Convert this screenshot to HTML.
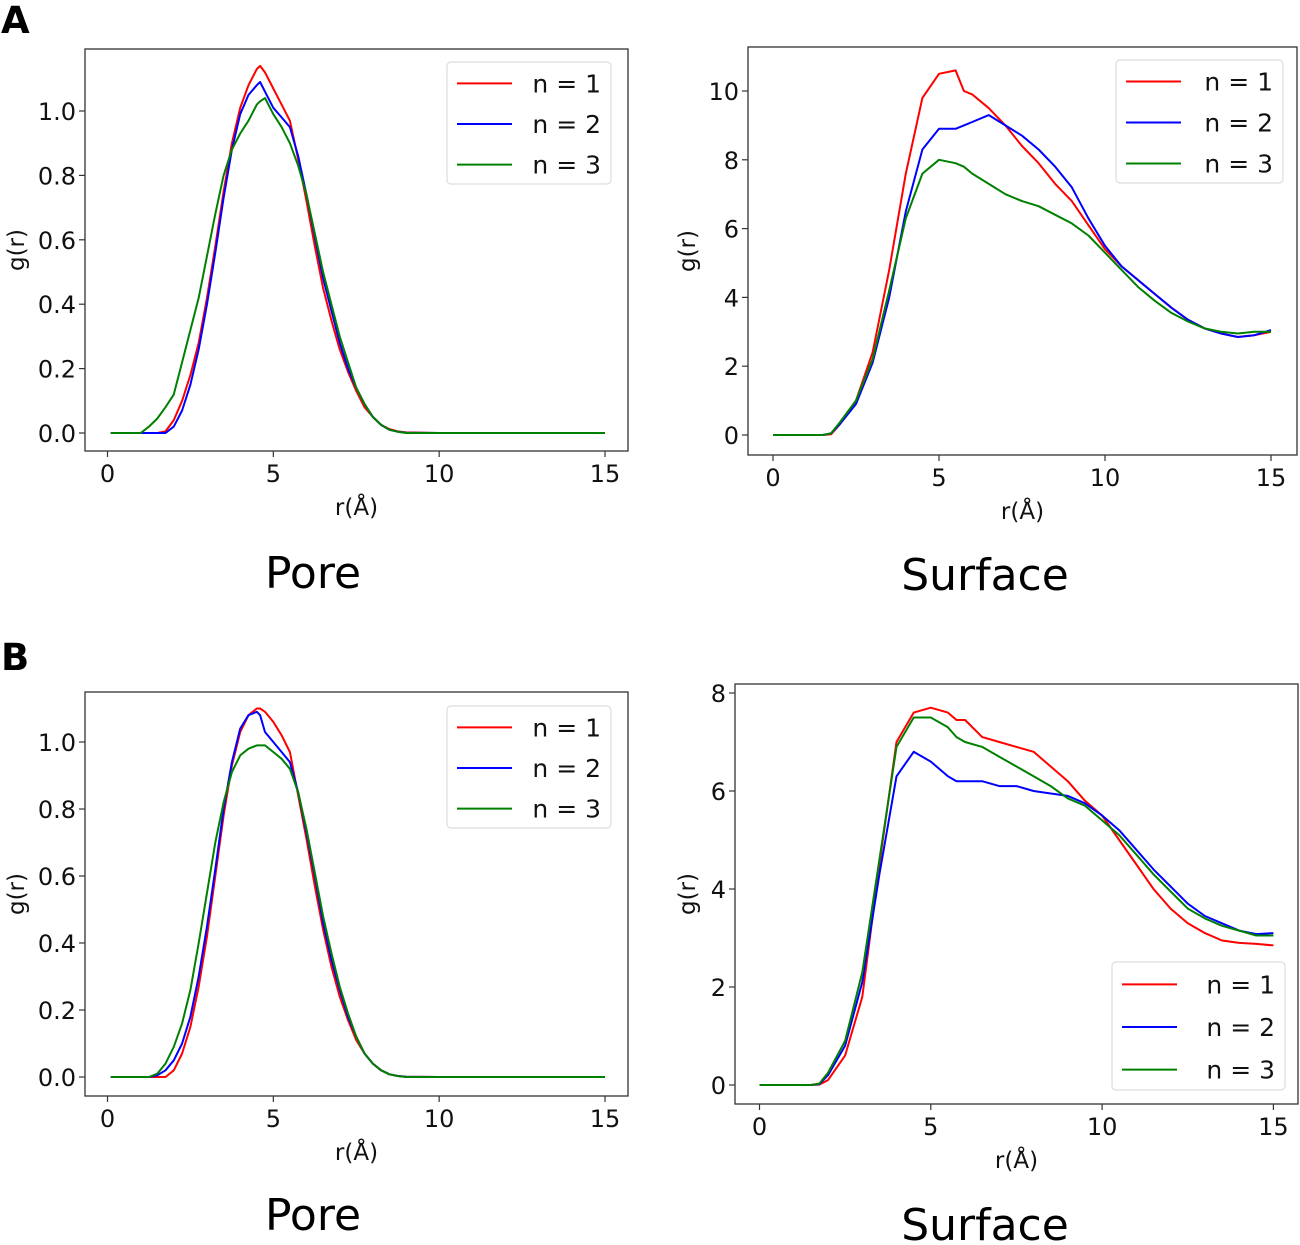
<!DOCTYPE html>
<html><head><meta charset="utf-8">
<style>
body{margin:0;background:#fff;}
svg{display:block;font-family:"DejaVu Sans","Liberation Sans",sans-serif;}
</style></head>
<body>
<svg id="fig" width="1300" height="1245" viewBox="0 0 1300 1245" xmlns="http://www.w3.org/2000/svg">
<text x="1" y="33" font-size="37" font-weight="bold">A</text>
<text x="1" y="670" font-size="37" font-weight="bold">B</text>
<text x="313" y="588" font-size="44" text-anchor="middle">Pore</text>
<text x="985" y="590" font-size="44" text-anchor="middle">Surface</text>
<text x="313" y="1230" font-size="44" text-anchor="middle">Pore</text>
<text x="985" y="1240" font-size="44" text-anchor="middle">Surface</text>
</svg>
<script>
const poreR = [0.1,1,1.25,1.5,1.75,2,2.25,2.5,2.75,3,3.25,3.5,3.75,4,4.25,4.5,4.6,4.75,5,5.25,5.5,5.75,6,6.25,6.5,6.75,7,7.25,7.5,7.75,8,8.25,8.5,8.75,9,10,15];
const poreA1 = [0,0,0,0,0.005,0.04,0.1,0.18,0.28,0.42,0.58,0.75,0.9,1.01,1.08,1.13,1.14,1.12,1.07,1.02,0.97,0.85,0.72,0.58,0.45,0.35,0.26,0.19,0.13,0.08,0.05,0.025,0.012,0.005,0.002,0,0];
const poreA2 = [0,0,0,0,0,0.02,0.07,0.15,0.26,0.4,0.56,0.73,0.88,0.99,1.05,1.08,1.09,1.06,1.01,0.98,0.95,0.86,0.74,0.61,0.48,0.38,0.28,0.2,0.14,0.09,0.05,0.025,0.01,0.004,0.001,0,0];
const poreA3 = [0,0,0.02,0.045,0.08,0.12,0.22,0.32,0.42,0.55,0.68,0.8,0.88,0.93,0.97,1.02,1.03,1.04,0.99,0.95,0.9,0.83,0.74,0.62,0.5,0.4,0.3,0.22,0.14,0.09,0.05,0.025,0.01,0.004,0,0,0];
const poreB1 = [0,0,0,0,0,0.02,0.07,0.15,0.27,0.42,0.6,0.78,0.93,1.03,1.08,1.1,1.1,1.09,1.06,1.02,0.97,0.84,0.71,0.57,0.44,0.33,0.24,0.17,0.11,0.07,0.04,0.02,0.008,0.003,0.001,0,0];
const poreB2 = [0,0,0,0.005,0.02,0.05,0.1,0.18,0.3,0.45,0.62,0.8,0.94,1.04,1.08,1.09,1.08,1.03,1.0,0.97,0.94,0.85,0.73,0.6,0.46,0.35,0.26,0.18,0.12,0.07,0.04,0.02,0.008,0.003,0.001,0,0];
const poreB3 = [0,0,0,0.01,0.04,0.09,0.16,0.26,0.4,0.55,0.7,0.82,0.91,0.96,0.98,0.99,0.99,0.99,0.97,0.95,0.92,0.85,0.74,0.61,0.48,0.37,0.27,0.19,0.12,0.07,0.04,0.02,0.008,0.003,0,0,0];
const surfR = [0,0.5,1,1.5,1.75,2,2.5,3,3.5,4,4.5,5,5.5,5.75,6,6.5,7,7.5,8,8.5,9,9.5,10,10.5,11,11.5,12,12.5,13,13.5,14,14.5,15];
const surfA1 = [0,0,0,0,0.02,0.3,1.0,2.4,4.8,7.6,9.8,10.5,10.6,10.0,9.9,9.5,9.0,8.4,7.9,7.3,6.8,6.1,5.4,4.9,4.5,4.1,3.7,3.35,3.1,2.95,2.85,2.9,3.0];
const surfA2 = [0,0,0,0,0.05,0.3,0.9,2.1,4.0,6.5,8.3,8.9,8.9,9.0,9.1,9.3,9.0,8.7,8.3,7.8,7.2,6.3,5.5,4.9,4.5,4.1,3.7,3.35,3.1,2.95,2.85,2.9,3.05];
const surfA3 = [0,0,0,0,0.05,0.35,1.0,2.2,4.2,6.3,7.6,8.0,7.9,7.8,7.6,7.3,7.0,6.8,6.65,6.4,6.15,5.8,5.3,4.8,4.3,3.9,3.55,3.3,3.1,3.0,2.95,3.0,3.0];
const surfB1 = [0,0,0,0,0.01,0.1,0.6,1.8,4.5,7.0,7.6,7.7,7.6,7.45,7.45,7.1,7.0,6.9,6.8,6.5,6.2,5.8,5.5,5.0,4.5,4.0,3.6,3.3,3.1,2.95,2.9,2.88,2.85];
const surfB2 = [0,0,0,0,0.02,0.2,0.8,2.1,4.3,6.3,6.8,6.6,6.3,6.2,6.2,6.2,6.1,6.1,6.0,5.95,5.9,5.75,5.5,5.2,4.8,4.4,4.05,3.7,3.45,3.3,3.15,3.08,3.1];
const surfB3 = [0,0,0,0,0.03,0.25,0.9,2.3,4.6,6.9,7.5,7.5,7.3,7.1,7.0,6.9,6.7,6.5,6.3,6.1,5.85,5.7,5.4,5.1,4.7,4.3,3.95,3.6,3.4,3.25,3.15,3.05,3.05];
const xTicks = [0,5,10,15];
const poreYTicks = [0,0.2,0.4,0.6,0.8,1.0];
const poreYLabels = ["0.0","0.2","0.4","0.6","0.8","1.0"];
const surfAYTicks = [0,2,4,6,8,10];
const surfBYTicks = [0,2,4,6,8];
const legendLabels = ["n = 1","n = 2","n = 3"];
const colors = ["#ff0000","#0000ff","#008000"];

const NS="http://www.w3.org/2000/svg";
const svg=document.getElementById('fig');
function mk(tag,attrs,parent){const e=document.createElementNS(NS,tag);for(const k in attrs)e.setAttribute(k,attrs[k]);(parent||svg).appendChild(e);return e;}

function panel(p){
  const g=mk('g',{});
  
  
  const sx=v=>p.x0+(v-p.xv0)*(p.x1-p.x0)/(p.xv1-p.xv0);
  const sy=v=>p.y0+(v-p.yv0)*(p.y1-p.y0)/(p.yv1-p.yv0);
  p.series.forEach((s,i)=>{
    const d=p.r.map((r,j)=>(j?'L':'M')+sx(r).toFixed(1)+','+sy(s[j]).toFixed(1)).join(' ');
    const path=mk('path',{d:d,fill:'none',stroke:colors[i],'stroke-width':2,'stroke-linejoin':'round'},g);
    
    
  });
  const fr=mk('rect',{x:p.bx0,y:p.by0,width:p.bx1-p.bx0,height:p.by1-p.by0,fill:'none',stroke:'#333','stroke-width':1.3},g);
  
  
  xTicks.forEach(t=>{
    const x=sx(t);
    mk('line',{x1:x,x2:x,y1:p.by1,y2:p.by1+6,stroke:'#333','stroke-width':1.2},g);
    const tx=mk('text',{x:x,y:p.by1+31,'font-size':24,'text-anchor':'middle',fill:'#111'},g);
    tx.textContent=t;
    
    
  });
  p.yt.forEach((t,i)=>{
    const y=sy(t);
    mk('line',{x1:p.bx0-6,x2:p.bx0,y1:y,y2:y,stroke:'#333','stroke-width':1.2},g);
    const tx=mk('text',{x:p.bx0-9,y:y+9,'font-size':24,'text-anchor':'end',fill:'#111'},g);
    tx.textContent=p.yl?p.yl[i]:t;
    
    
  });
  const xl=mk('text',{x:(p.bx0+p.bx1)/2,y:p.by1+64,'font-size':23,'text-anchor':'middle',fill:'#111'},g);
  xl.textContent='r(Å)';
  
  
  const yc=(p.by0+p.by1)/2;
  const yl=mk('text',{x:p.ylx,y:yc,'font-size':23,'text-anchor':'middle',fill:'#111',transform:'rotate(-90 '+p.ylx+' '+yc+')'},g);
  yl.textContent='g(r)';
  
  
  const L=p.leg;
  const lg=mk('g',{},g);
  
  
  mk('rect',{x:L[0],y:L[1],width:L[2]-L[0],height:L[3]-L[1],rx:4,fill:'#fff','fill-opacity':0.85,stroke:'#ddd','stroke-width':1.2},lg);
  const step=(L[3]-L[1])/3;
  legendLabels.forEach((lab,i)=>{
    const cy=L[1]+step*(i+0.5)+1;
    mk('line',{x1:L[0]+10,x2:L[0]+65,y1:cy,y2:cy,stroke:colors[i],'stroke-width':2},lg);
    const t=mk('text',{x:L[2]-10,y:cy+9,'font-size':25,'text-anchor':'end',fill:'#111'},lg);
    t.textContent=lab;
    
    
  });
}

panel({name:'pore-a-chart',r:poreR,series:[poreA1,poreA2,poreA3],x0:107.5,x1:605,xv0:0,xv1:15,y0:433,y1:111,yv0:0,yv1:1,
  bx0:85,bx1:628,by0:49,by1:451,yt:poreYTicks,yl:poreYLabels,ylx:24,leg:[447,62,611,184]});
panel({name:'surface-a-chart',r:surfR,series:[surfA1,surfA2,surfA3],x0:773,x1:1271,xv0:0,xv1:15,y0:435,y1:91,yv0:0,yv1:10,
  bx0:748,bx1:1297,by0:47,by1:455,yt:surfAYTicks,ylx:695,leg:[1116,60,1283,183]});
panel({name:'pore-b-chart',r:poreR,series:[poreB1,poreB2,poreB3],x0:107.5,x1:605,xv0:0,xv1:15,y0:1077,y1:742,yv0:0,yv1:1,
  bx0:85,bx1:628,by0:692,by1:1096,yt:poreYTicks,yl:poreYLabels,ylx:24,leg:[447,706,611,828]});
panel({name:'surface-b-chart',r:surfR,series:[surfB1,surfB2,surfB3],x0:759.5,x1:1273.4,xv0:0,xv1:15,y0:1085,y1:693,yv0:0,yv1:8,
  bx0:735,bx1:1298,by0:684,by1:1104,yt:surfBYTicks,ylx:695,leg:[1112,962,1285,1090]});
</script>
</body></html>
